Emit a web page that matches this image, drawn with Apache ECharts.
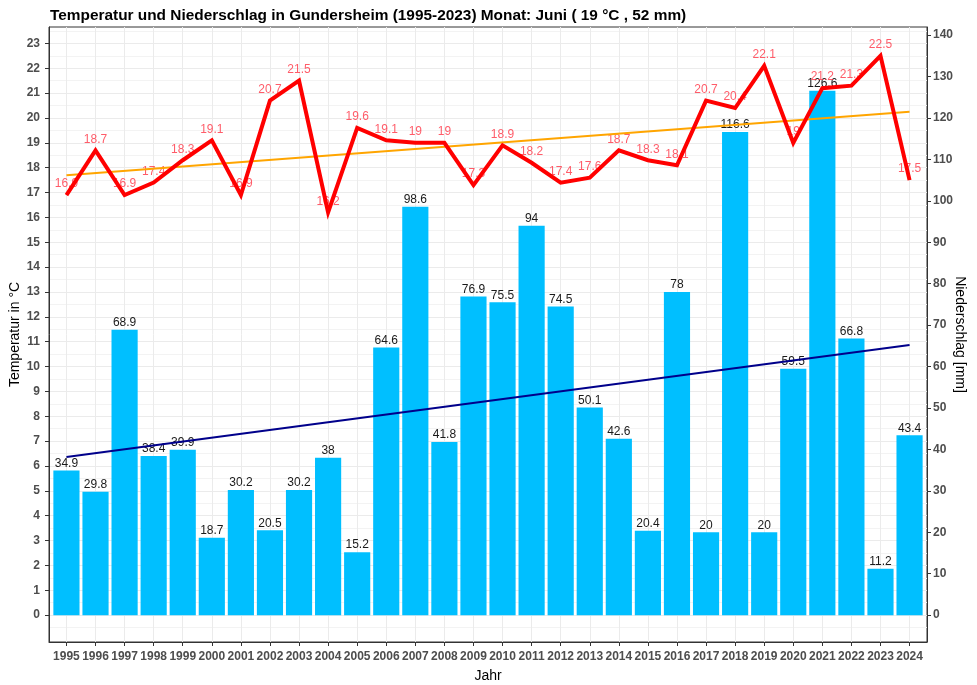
<!DOCTYPE html>
<html>
<head>
<meta charset="utf-8">
<script src="https://cdn.jsdelivr.net/npm/echarts@6/dist/echarts.min.js"></script>
<style>
html,body{margin:0;padding:0;background:#fff;}
#chart{width:977px;height:685px;}
</style>
</head>
<body>
<div id="chart"></div>
<script>
// ---- data ----
const years = [1995,1996,1997,1998,1999,2000,2001,2002,2003,2004,2005,2006,2007,2008,2009,2010,2011,2012,2013,2014,2015,2016,2017,2018,2019,2020,2021,2022,2023,2024];
const temperature = [16.9,18.7,16.9,17.4,18.3,19.1,16.9,20.7,21.5,16.2,19.6,19.1,19,19,17.3,18.9,18.2,17.4,17.6,18.7,18.3,18.1,20.7,20.4,22.1,19,21.2,21.3,22.5,17.5];
const precipitation = [34.9,29.8,68.9,38.4,39.9,18.7,30.2,20.5,30.2,38,15.2,64.6,98.6,41.8,76.9,75.5,94,74.5,50.1,42.6,20.4,78,20,116.6,20,59.5,126.6,66.8,11.2,43.4];
const trendYears = [1995, 2024];
const tempTrend = [17.7, 20.25];
const precTrend = [38.2, 65.2];
const tempTicks = [0,1,2,3,4,5,6,7,8,9,10,11,12,13,14,15,16,17,18,19,20,21,22,23];
const tempMinor = [-0.5,0.5,1.5,2.5,3.5,4.5,5.5,6.5,7.5,8.5,9.5,10.5,11.5,12.5,13.5,14.5,15.5,16.5,17.5,18.5,19.5,20.5,21.5,22.5,23.5];
const precTicks = [0,10,20,30,40,50,60,70,80,90,100,110,120,130,140];
const titleText = 'Temperatur und Niederschlag in Gundersheim (1995-2023) Monat: Juni ( 19 °C , 52 mm)';

// ---- layout / scale settings ----
const tMin = -1.08, tMax = 23.66, ratio = 6;
const FONT = "'Liberation Sans', Arial, sans-serif";
const tickLabel = {fontFamily: FONT, fontSize: 12, fontWeight: 'bold', color: '#4d4d4d'};

const chart = echarts.init(document.getElementById('chart'), null, {renderer: 'canvas'});
const pair = (xs, ys) => xs.map((x, i) => [x, ys[i]]);

chart.setOption({
  animation: false,
  backgroundColor: '#ffffff',
  title: {
    text: titleText, left: 45, top: 3,
    textStyle: {fontFamily: FONT, fontSize: 15.4, fontWeight: 'bold', color: '#000'}
  },
  grid: {left: 49, right: 50, top: 27, bottom: 43, show: true, borderColor: '#333', borderWidth: 1,
         backgroundColor: 'transparent', containLabel: false, outerBoundsMode: 'none'},
  xAxis: {
    type: 'value', min: 1994.4, max: 2024.6,
    name: 'Jahr', nameLocation: 'middle', nameGap: 27, nameMoveOverlap: false,
    nameTextStyle: {fontFamily: FONT, fontSize: 14, color: '#000'},
    axisLine: {show: true, onZero: false, lineStyle: {color: '#333', width: 1}},
    axisTick: {show: true, customValues: years, length: 4, lineStyle: {color: '#333'}},
    axisLabel: Object.assign({customValues: years, margin: 9, formatter: v => String(v)}, tickLabel),
    splitLine: {show: true, lineStyle: {color: '#ebebeb', width: 1}}
  },
  yAxis: [
    {
      type: 'value', min: tMin, max: tMax, position: 'left',
      name: 'Temperatur in °C', nameLocation: 'middle', nameGap: 27, nameRotate: 90, nameMoveOverlap: false,
      nameTextStyle: {fontFamily: FONT, fontSize: 14, color: '#000'},
      axisLine: {show: true, onZero: false, lineStyle: {color: '#333'}},
      axisTick: {show: true, customValues: tempTicks, length: 4, lineStyle: {color: '#333'}},
      axisLabel: Object.assign({customValues: tempTicks, margin: 9}, tickLabel),
      splitLine: {show: true, lineStyle: {color: '#ebebeb', width: 1}}
    },
    {
      type: 'value', min: tMin * ratio, max: tMax * ratio, position: 'right',
      name: 'Niederschlag [mm]', nameLocation: 'middle', nameGap: 26, nameRotate: -90, nameMoveOverlap: false,
      nameTextStyle: {fontFamily: FONT, fontSize: 14, color: '#000'},
      axisLine: {show: true, onZero: false, lineStyle: {color: '#333'}},
      axisTick: {show: true, customValues: precTicks, length: 4, lineStyle: {color: '#333'}},
      axisLabel: Object.assign({customValues: precTicks, margin: 6}, tickLabel),
      splitLine: {show: false}
    },
    {
      type: 'value', min: tMin, max: tMax, position: 'left', show: true,
      axisLine: {show: false}, axisTick: {show: false, customValues: tempMinor},
      axisLabel: {show: false, customValues: tempMinor},
      splitLine: {show: true, lineStyle: {color: '#f3f3f3', width: 1}}
    }
  ],
  series: [
    {
      type: 'bar', name: 'Niederschlag', yAxisIndex: 1, z: 1,
      data: pair(years, precipitation), barWidth: '90%',
      itemStyle: {color: '#00BFFF', borderWidth: 0},
      label: {show: true, position: 'top', distance: 1, fontFamily: FONT, fontSize: 12, color: '#1a1a1a'}
    },
    {
      type: 'line', name: 'Trend Niederschlag', yAxisIndex: 1, z: 3,
      data: pair(trendYears, precTrend), symbol: 'none',
      lineStyle: {color: '#00008B', width: 2}
    },
    {
      type: 'scatter', name: 'Temp-Labels', yAxisIndex: 0, z: 2,
      data: pair(years, temperature), symbolSize: 0,
      label: {show: true, position: 'top', distance: 5, fontFamily: FONT, fontSize: 12, color: '#ff3344', formatter: p => String(p.value[1])}
    },
    {
      type: 'line', name: 'Trend Temperatur', yAxisIndex: 0, z: 4,
      data: pair(trendYears, tempTrend), symbol: 'none',
      lineStyle: {color: '#FFA500', width: 2}
    },
    {
      type: 'line', name: 'Temperatur', yAxisIndex: 0, z: 5,
      data: pair(years, temperature), symbol: 'none',
      lineStyle: {color: '#FF0000', width: 4, join: 'miter'}
    }
  ]
});
</script>
</body>
</html>
